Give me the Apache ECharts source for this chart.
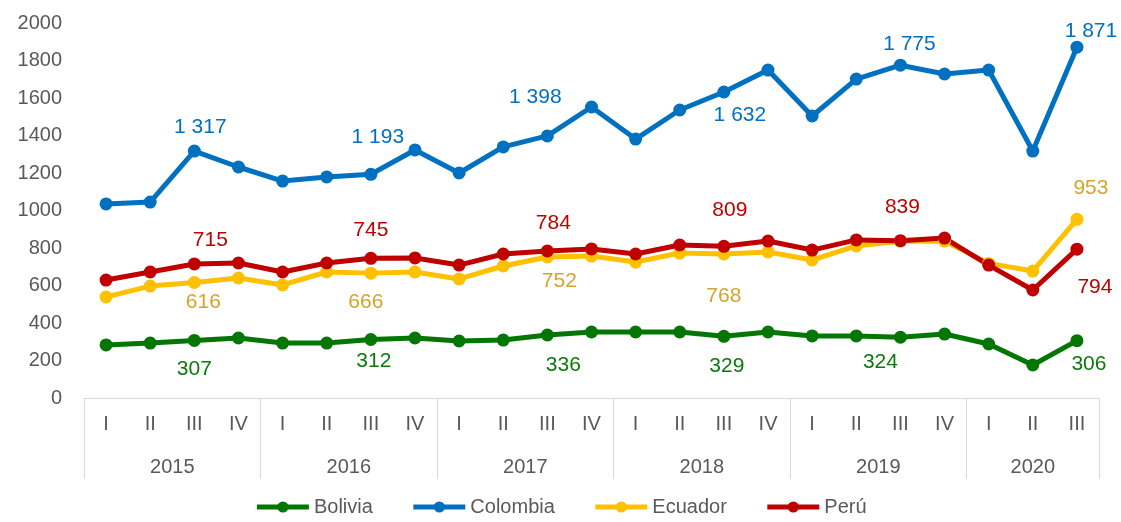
<!DOCTYPE html>
<html lang="es">
<head>
    <meta charset="UTF-8">
    <title>Chart</title>
    <script src="https://cdn.jsdelivr.net/npm/echarts@6/dist/echarts.min.js"></script>
    <style>
        html, body { margin: 0; padding: 0; background: #fff; }
        #main { width: 1121px; height: 522px; }
    </style>
</head>
<body>
<div id="main"></div>
<script type="text/javascript">
    // data
    var years = ['2015', '2016', '2017', '2018', '2019', '2020'];
    var quarters = ['I', 'II', 'III', 'IV', 'I', 'II', 'III', 'IV', 'I', 'II', 'III', 'IV',
        'I', 'II', 'III', 'IV', 'I', 'II', 'III', 'IV', 'I', 'II', 'III'];
    var bolivia = [283, 293, 307, 320, 293, 293, 312, 320, 304, 309, 336, 352,
        352, 352, 329, 352, 331, 331, 324, 341, 288, 176, 306];
    var colombia = [1035, 1045, 1317, 1232, 1157, 1179, 1193, 1323, 1200, 1339, 1398, 1552,
        1381, 1536, 1632, 1749, 1504, 1701, 1775, 1728, 1749, 1317, 1871];
    var ecuador = [539, 597, 616, 640, 603, 672, 666, 672, 635, 704, 752, 757,
        725, 773, 768, 779, 736, 811, 836, 837, 718, 677, 953];
    var peru = [629, 672, 715, 720, 672, 720, 745, 747, 709, 768, 784, 795,
        768, 816, 809, 837, 789, 843, 839, 853, 709, 576, 794];

    var font = 'Liberation Sans, Arial, sans-serif';
    var grey = '#595959';

    // label placement (offset from point centre) for labelled points
    var labelOffsets = {
        Bolivia: {2: [0, 29], 6: [3, 22], 10: [16, 30], 14: [3, 30], 18: [-20, 25], 22: [12, 24]},
        Colombia: {2: [6, -24], 6: [7, -37], 10: [-12, -39], 14: [16, 23], 18: [9, -21], 22: [14, -16]},
        Ecuador: {2: [9, 20], 6: [-5, 29], 10: [12, 24], 14: [0, 42], 22: [14, -31]},
        'Perú': {2: [16, -24], 6: [0, -28], 10: [6, -28], 14: [6, -36], 18: [2, -33], 22: [18, 38]}
    };

    function fmt(v) {
        return String(v).replace(/\B(?=(\d{3})+(?!\d))/g, ' ');
    }

    function buildData(name, values, labelColor) {
        var offs = labelOffsets[name];
        return values.map(function (v, i) {
            if (!offs[i]) return v;
            return {
                value: v,
                label: {
                    show: true,
                    position: 'inside',
                    offset: offs[i],
                    color: labelColor,
                    fontSize: 21,
                    fontFamily: font,
                    formatter: function (p) { return fmt(p.value); }
                }
            };
        });
    }

    function makeSeries(name, values, color, labelColor) {
        return {
            name: name,
            type: 'line',
            data: buildData(name, values, labelColor),
            symbol: 'circle',
            symbolSize: 13,
            lineStyle: {width: 5, color: color},
            itemStyle: {color: color},
            label: {show: false},
            emphasis: {disabled: true},
            animation: false
        };
    }

    // year label axis: 47 slots at half-quarter steps, year name at each group's centre
    var yearAxisData = [];
    for (var k = 0; k <= quarters.length * 2; k++) yearAxisData.push('');
    var start = 0;
    years.forEach(function (y, i) {
        var n = (i === years.length - 1) ? quarters.length - start : 4;
        yearAxisData[2 * start + n] = y;
        start += n;
    });

    var chart = echarts.init(document.getElementById('main'));
    var option = {
        animation: false,
        grid: {left: 84, right: 22, top: 23, bottom: 124},
        legend: {
            bottom: 0,
            left: 'center',
            itemWidth: 52,
            itemHeight: 14,
            itemGap: 38,
            lineStyle: {width: 5},
            textStyle: {color: grey, fontSize: 20, fontFamily: font},
            data: ['Bolivia', 'Colombia', 'Ecuador', 'Perú']
        },
        xAxis: [{
            type: 'category',
            data: quarters,
            boundaryGap: true,
            axisLine: {lineStyle: {color: '#d9d9d9', width: 1}},
            axisTick: {
                show: true,
                length: 81,
                lineStyle: {color: '#d9d9d9', width: 1},
                interval: function (idx) { return idx % 4 === 0; }
            },
            axisLabel: {color: grey, fontSize: 20, fontFamily: font, margin: 16, interval: 0}
        }, {
            type: 'category',
            data: yearAxisData,
            boundaryGap: false,
            position: 'bottom',
            axisLine: {show: false},
            axisTick: {show: false},
            axisLabel: {color: grey, fontSize: 20, fontFamily: font, margin: 59, interval: 0}
        }],
        yAxis: {
            type: 'value',
            min: 0,
            max: 2000,
            interval: 200,
            axisLine: {show: false},
            axisTick: {show: false},
            splitLine: {show: false},
            axisLabel: {
                color: grey, fontSize: 20, fontFamily: font, margin: 22,
                formatter: function (v) { return String(v); }
            }
        },
        series: [
            makeSeries('Bolivia', bolivia, '#037603', '#0a7a0a'),
            makeSeries('Colombia', colombia, '#0070c0', '#0070c0'),
            makeSeries('Ecuador', ecuador, '#ffc000', '#d5a42e'),
            makeSeries('Perú', peru, '#c00000', '#c00000')
        ]
    };
    chart.setOption(option);
</script>
</body>
</html>
